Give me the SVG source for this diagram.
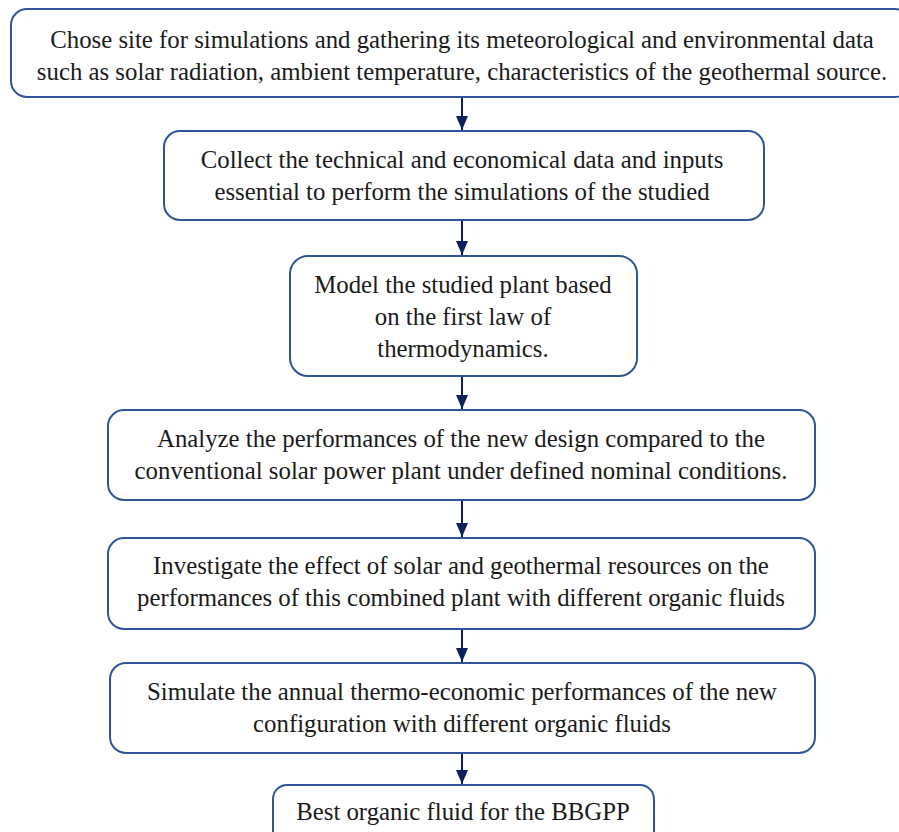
<svg xmlns="http://www.w3.org/2000/svg" width="899" height="832" viewBox="0 0 899 832">
<style>
.box{fill:#fff;stroke:#2f5597;stroke-width:2}
.t{font-family:"Liberation Serif","Times New Roman",serif;font-size:24.8px;fill:#1a1a1a;text-anchor:middle}
.c{stroke:#0d1f5c;stroke-width:2;fill:none}
</style>
<defs>
<marker id="ah" markerWidth="14" markerHeight="12" refX="14" refY="6" orient="auto" markerUnits="userSpaceOnUse">
<path d="M0,0 L14,6 L0,12 Z" fill="#0d1f5c"/>
</marker>
</defs>
<rect width="899" height="832" fill="#fff"/>
<g id="connectors">
<line class="c" x1="462" y1="97" x2="462" y2="130" marker-end="url(#ah)"/>
<line class="c" x1="462" y1="221" x2="462" y2="255" marker-end="url(#ah)"/>
<line class="c" x1="462" y1="376" x2="462" y2="409" marker-end="url(#ah)"/>
<line class="c" x1="462" y1="500" x2="462" y2="537" marker-end="url(#ah)"/>
<line class="c" x1="462" y1="629" x2="462" y2="662" marker-end="url(#ah)"/>
<line class="c" x1="462" y1="753" x2="462" y2="784" marker-end="url(#ah)"/>
</g>
<g id="n1">
<rect class="box" x="11" y="9" width="900" height="88" rx="16"/>
<text class="t" x="462" y="48">Chose site for simulations and gathering its meteorological and environmental data</text>
<text class="t" x="462" y="80">such as solar radiation, ambient temperature, characteristics of the geothermal source.</text>
</g>
<g id="n2">
<rect class="box" x="164" y="131" width="600" height="89" rx="16"/>
<text class="t" x="462" y="168">Collect the technical and economical data and inputs</text>
<text class="t" x="462" y="200">essential to perform the simulations of the studied</text>
</g>
<g id="n3">
<rect class="box" x="290" y="256" width="347" height="120" rx="18"/>
<text class="t" x="463" y="293">Model the studied plant based</text>
<text class="t" x="463" y="325">on the first law of</text>
<text class="t" x="463" y="357">thermodynamics.</text>
</g>
<g id="n4">
<rect class="box" x="108" y="410" width="707" height="90" rx="16"/>
<text class="t" x="461" y="447">Analyze the performances of the new design compared to the</text>
<text class="t" x="461" y="479">conventional solar power plant under defined nominal conditions.</text>
</g>
<g id="n5">
<rect class="box" x="108" y="538" width="707" height="91" rx="16"/>
<text class="t" x="461" y="574">Investigate the effect of solar and geothermal resources on the</text>
<text class="t" x="461" y="606">performances of this combined plant with different organic fluids</text>
</g>
<g id="n6">
<rect class="box" x="110" y="663" width="705" height="90" rx="16"/>
<text class="t" x="462" y="700">Simulate the annual thermo-economic performances of the new</text>
<text class="t" x="462" y="732">configuration with different organic fluids</text>
</g>
<g id="n7">
<rect class="box" x="273" y="785" width="381" height="60" rx="14"/>
<text class="t" x="463" y="820">Best organic fluid for the BBGPP</text>
</g>
</svg>
